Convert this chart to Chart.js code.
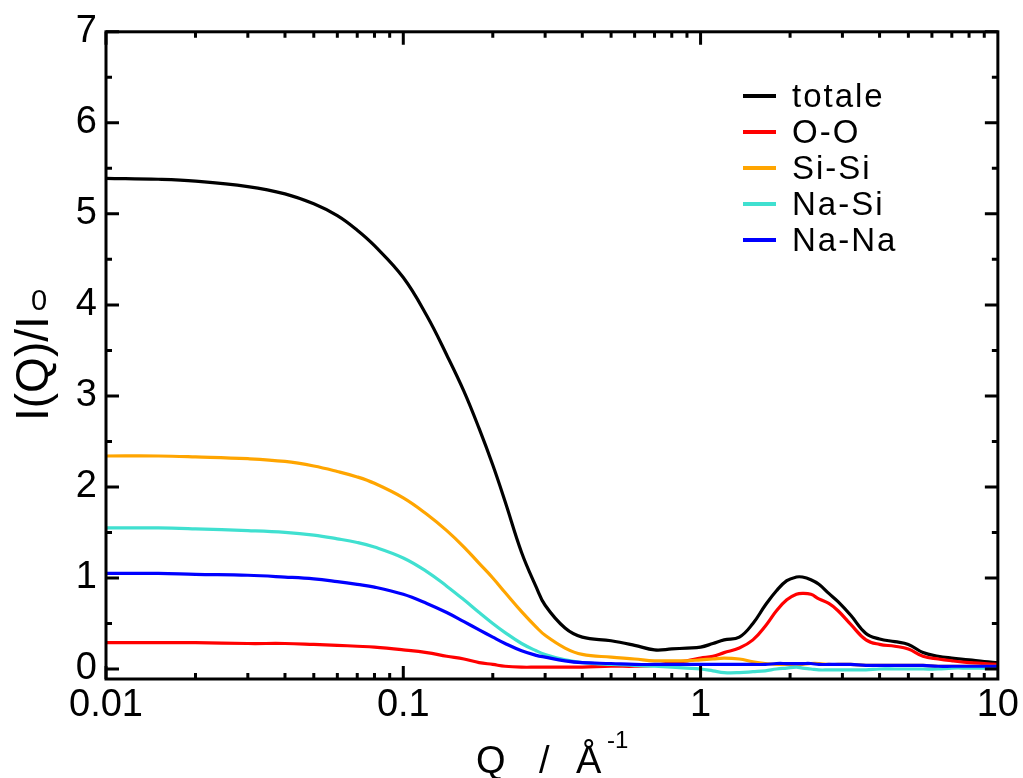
<!DOCTYPE html>
<html>
<head>
<meta charset="UTF-8">
<title>I(Q)/I0</title>
<script src="https://cdn.jsdelivr.net/npm/chart.js@4/dist/chart.umd.min.js"></script>
<style>
  html, body { margin: 0; padding: 0; background: #fff; }
  canvas { display: block; }
</style>
</head>
<body>
<canvas id="chart" width="1023" height="778"></canvas>
<script>
// Q values (1/Angstrom), shared by all curves
const qValues = [0.01, 0.015, 0.02, 0.03, 0.04, 0.05, 0.06, 0.07, 0.08, 0.1,
  0.12, 0.14, 0.16, 0.18, 0.2, 0.22, 0.25, 0.28, 0.3, 0.35,
  0.4, 0.5, 0.6, 0.7, 0.8, 0.9, 1.0, 1.1, 1.2, 1.35,
  1.5, 1.65, 1.8, 1.95, 2.1, 2.2, 2.35, 2.5, 2.7, 2.9,
  3.2, 3.6, 4.0, 4.5, 5.0, 5.6, 6.3, 7.0, 8.0, 9.0, 10];

const totale = [5.39, 5.38, 5.36, 5.30, 5.22, 5.11, 4.98, 4.82, 4.65, 4.30,
  3.88, 3.45, 3.05, 2.64, 2.24, 1.84, 1.28, 0.90, 0.70, 0.45,
  0.35, 0.31, 0.26, 0.21, 0.22, 0.23, 0.24, 0.28, 0.32, 0.35,
  0.50, 0.70, 0.86, 0.97, 1.01, 1.01, 0.98, 0.93, 0.83, 0.74,
  0.59, 0.39, 0.33, 0.30, 0.27, 0.18, 0.14, 0.12, 0.10, 0.08, 0.07];

const oo = [0.29, 0.29, 0.29, 0.28, 0.28, 0.27, 0.26, 0.25, 0.24, 0.21,
  0.18, 0.14, 0.11, 0.07, 0.05, 0.03, 0.02, 0.02, 0.02, 0.02,
  0.02, 0.03, 0.03, 0.04, 0.07, 0.09, 0.12, 0.14, 0.18, 0.23,
  0.32, 0.47, 0.64, 0.76, 0.82, 0.83, 0.82, 0.77, 0.72, 0.64,
  0.49, 0.32, 0.27, 0.25, 0.22, 0.14, 0.11, 0.09, 0.07, 0.06, 0.05];

const sisi = [2.34, 2.34, 2.33, 2.31, 2.28, 2.23, 2.17, 2.11, 2.04, 1.88,
  1.70, 1.52, 1.34, 1.16, 1.00, 0.84, 0.63, 0.46, 0.37, 0.23,
  0.16, 0.13, 0.11, 0.09, 0.09, 0.09, 0.10, 0.11, 0.12, 0.11,
  0.08, 0.06, 0.05, 0.05, 0.05, 0.05, 0.06, 0.06, 0.05, 0.05,
  0.05, 0.04, 0.04, 0.04, 0.04, 0.04, 0.03, 0.03, 0.03, 0.03, 0.03];

const nasi = [1.55, 1.55, 1.54, 1.52, 1.50, 1.47, 1.43, 1.39, 1.34, 1.22,
  1.07, 0.91, 0.76, 0.62, 0.50, 0.40, 0.28, 0.20, 0.16, 0.10,
  0.07, 0.05, 0.04, 0.03, 0.02, 0.01, 0.00, -0.02, -0.04, -0.04,
  -0.03, -0.02, 0.00, 0.01, 0.02, 0.01, 0.00, -0.01, -0.01, -0.01,
  -0.01, -0.01, 0.00, 0.00, 0.00, 0.00, 0.00, 0.01, 0.01, 0.01, 0.01];

const nana = [1.05, 1.05, 1.04, 1.03, 1.01, 0.99, 0.96, 0.93, 0.90, 0.82,
  0.72, 0.62, 0.52, 0.43, 0.35, 0.28, 0.20, 0.15, 0.13, 0.09,
  0.07, 0.06, 0.05, 0.05, 0.05, 0.05, 0.05, 0.05, 0.05, 0.05,
  0.05, 0.05, 0.06, 0.06, 0.06, 0.06, 0.06, 0.05, 0.05, 0.05,
  0.05, 0.04, 0.04, 0.04, 0.04, 0.04, 0.03, 0.03, 0.03, 0.03, 0.03];

const seriesNames = ['totale', 'O-O', 'Si-Si', 'Na-Si', 'Na-Na'];
const seriesColors = ['#000000', '#ff0000', '#ffa500', '#40e0d0', '#0000ff'];
const seriesValues = [totale, oo, sisi, nasi, nana];

const xTicks = [0.01, 0.1, 1, 10];
const yTicks = [0, 1, 2, 3, 4, 5, 6, 7];

const FONT = "'Liberation Sans', Arial, Helvetica, sans-serif";

// frame with inward ticks on all four sides, legend and axis titles
const decorPlugin = {
  id: 'decor',
  afterDatasetsDraw(chart) {
    const { ctx, chartArea: a, scales: { x, y } } = chart;
    ctx.save();
    ctx.strokeStyle = '#000';
    ctx.lineWidth = 3;
    ctx.strokeRect(a.left, a.top, a.right - a.left, a.bottom - a.top);
    ctx.beginPath();
    for (let d = 0.01; d < 10; d *= 10) {
      for (let m = 1; m <= 9; m++) {
        const px = x.getPixelForValue(d * m);
        const len = m === 1 ? 13 : 6;
        ctx.moveTo(px, a.bottom); ctx.lineTo(px, a.bottom - len);
        ctx.moveTo(px, a.top); ctx.lineTo(px, a.top + len);
      }
    }
    for (let v = 0; v <= 7; v += 0.5) {
      const py = y.getPixelForValue(v);
      const len = Number.isInteger(v) ? 13 : 6;
      ctx.moveTo(a.left, py); ctx.lineTo(a.left + len, py);
      ctx.moveTo(a.right, py); ctx.lineTo(a.right - len, py);
    }
    ctx.stroke();
    ctx.restore();
  },
  afterDraw(chart) {
    const { ctx } = chart;
    ctx.save();
    ctx.fillStyle = '#000';

    // legend
    ctx.font = '33px ' + FONT;
    ctx.letterSpacing = '2px';
    ctx.textBaseline = 'middle';
    ctx.textAlign = 'left';
    chart.data.datasets.forEach((ds, i) => {
      const ly = 96 + i * 36;
      ctx.strokeStyle = ds.borderColor;
      ctx.lineWidth = 4;
      ctx.beginPath();
      ctx.moveTo(743, ly); ctx.lineTo(776, ly);
      ctx.stroke();
      ctx.fillText(ds.label, 792, ly + 2);
    });
    ctx.letterSpacing = '0px';

    // y title, subscript drawn upright
    ctx.save();
    ctx.translate(48, 421);
    ctx.rotate(-Math.PI / 2);
    ctx.font = '46px ' + FONT;
    ctx.textBaseline = 'alphabetic';
    ctx.fillText('I(Q)/I', 0, 0);
    ctx.restore();
    ctx.font = '29px ' + FONT;
    ctx.textAlign = 'center';
    ctx.textBaseline = 'middle';
    ctx.fillText('0', 39, 302);

    // x title
    ctx.textAlign = 'left';
    ctx.textBaseline = 'alphabetic';
    ctx.font = '38px ' + FONT;
    ctx.fillText('Q', 476, 773);
    ctx.fillText('/', 539, 773);
    ctx.fillText('Å', 576, 773);
    ctx.font = '24px ' + FONT;
    ctx.fillText('-1', 607, 748);
    ctx.restore();
  }
};

new Chart(document.getElementById('chart'), {
  type: 'line',
  data: {
    datasets: seriesNames.map((name, i) => ({
      label: name,
      data: qValues.map((q, k) => ({ x: q, y: seriesValues[i][k] })),
      borderColor: seriesColors[i],
      backgroundColor: seriesColors[i],
      borderWidth: 3.2,
      pointRadius: 0,
      fill: false,
      tension: 0.4,
      order: seriesNames.length - 1 - i
    }))
  },
  options: {
    responsive: false,
    devicePixelRatio: 1,
    animation: false,
    layout: { padding: { top: 26, right: 25, left: 0, bottom: 0 } },
    plugins: { legend: { display: false }, tooltip: { enabled: false } },
    scales: {
      x: {
        type: 'logarithmic',
        min: 0.01,
        max: 10,
        grid: { display: false, drawTicks: false },
        border: { display: false },
        ticks: {
          color: '#000',
          font: { family: FONT, size: 38 },
          padding: 4,
          autoSkip: false,
          maxRotation: 0,
          callback: v => String(v)
        },
        afterBuildTicks: s => { s.ticks = xTicks.map(v => ({ value: v })); },
        afterFit: s => { s.height = 99; }
      },
      y: {
        min: -0.11,
        max: 7,
        grid: { display: false, drawTicks: false },
        border: { display: false },
        ticks: {
          color: '#000',
          font: { family: FONT, size: 38 },
          padding: 9,
          callback: v => String(v)
        },
        afterBuildTicks: s => { s.ticks = yTicks.map(v => ({ value: v })); },
        afterFit: s => { s.width = 106; }
      }
    }
  },
  plugins: [decorPlugin]
});
</script>
</body>
</html>
